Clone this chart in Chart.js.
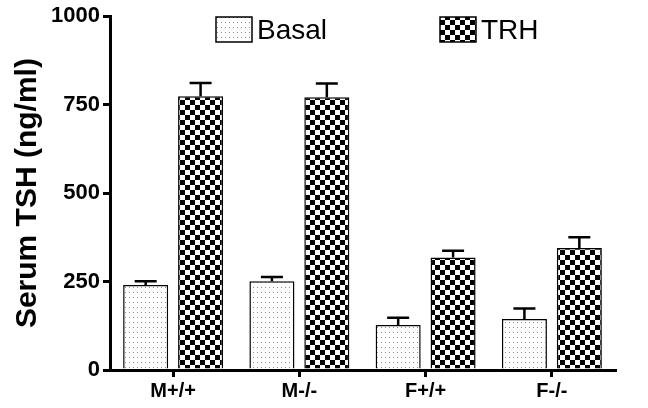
<!DOCTYPE html>
<html lang="en">
<head>
    <meta charset="UTF-8">
    <title>Serum TSH</title>
    <style>
        body { margin: 0; background: #fff; }
        #wrap { width: 648px; height: 408px; }
    </style>
</head>
<body>
    <div id="wrap">
        <canvas id="myChart"></canvas>
    </div>

    <script src="https://cdn.jsdelivr.net/npm/chart.js"></script>

    <script>
        let categories = ['M+/+', 'M-/-', 'F+/+', 'F-/-'];
        let basal = [240, 251, 127, 144];
        let basalErr = [11, 12, 21, 30];
        let trh = [774, 771, 318, 345];
        let trhErr = [37, 39, 19, 30];
        let yTicks = [0, 250, 500, 750, 1000];

        // fill patterns
        function dotPattern() {
            let c = document.createElement('canvas');
            c.width = 4; c.height = 5;
            let g = c.getContext('2d');
            g.fillStyle = '#fff';
            g.fillRect(0, 0, 4, 5);
            g.fillStyle = '#8a8a8a';
            g.fillRect(1, 2, 1, 1);
            return g.createPattern(c, 'repeat');
        }
        function checkPattern() {
            let c = document.createElement('canvas');
            c.width = 10; c.height = 10;
            let g = c.getContext('2d');
            g.fillStyle = '#fff';
            g.fillRect(0, 0, 10, 10);
            g.fillStyle = '#000';
            g.fillRect(0, 0, 5, 5);
            g.fillRect(5, 5, 5, 5);
            return g.createPattern(c, 'repeat');
        }

        let errors = [basalErr, trhErr];

        let errorBars = {
            id: 'errorBars',
            afterDatasetsDraw(chart) {
                let ctx = chart.ctx;
                let y = chart.scales.y;
                ctx.save();
                ctx.strokeStyle = '#000';
                ctx.lineWidth = 2.5;
                chart.data.datasets.forEach((ds, i) => {
                    chart.getDatasetMeta(i).data.forEach((bar, j) => {
                        let top = y.getPixelForValue(ds.data[j] + errors[i][j]);
                        ctx.beginPath();
                        ctx.moveTo(bar.x, bar.y);
                        ctx.lineTo(bar.x, top);
                        ctx.moveTo(bar.x - 11, top);
                        ctx.lineTo(bar.x + 11, top);
                        ctx.stroke();
                    });
                });
                ctx.restore();
            }
        };

        let legendBox = {
            id: 'legendBox',
            afterDraw(chart) {
                let ctx = chart.ctx;
                let pos = [216, 440];
                ctx.save();
                ctx.font = '28px Arial, "Liberation Sans", sans-serif';
                ctx.textBaseline = 'middle';
                chart.data.datasets.forEach((ds, i) => {
                    ctx.fillStyle = ds.backgroundColor;
                    ctx.fillRect(pos[i], 17, 36, 25);
                    ctx.strokeStyle = '#000';
                    ctx.lineWidth = 1.5;
                    ctx.strokeRect(pos[i], 17, 36, 25);
                    ctx.fillStyle = '#000';
                    ctx.fillText(ds.label, pos[i] + 41, 31);
                });
                ctx.restore();
            }
        };

        let datasets = [
            {
                label: 'Basal',
                data: basal,
                backgroundColor: dotPattern(),
                borderColor: '#000',
                borderWidth: 1.5,
            },
            {
                label: 'TRH',
                data: trh,
                backgroundColor: checkPattern(),
                borderColor: '#000',
                borderWidth: 1.5,
            },
        ];

        let options = {
            responsive: true,
            maintainAspectRatio: false,
            animation: false,
            layout: { padding: { top: 16, right: 33, left: 0, bottom: 0 } },
            datasets: { bar: { categoryPercentage: 0.87, barPercentage: 0.82 } },
            plugins: {
                legend: { display: false },
                tooltip: { enabled: false },
            },
            scales: {
                x: {
                    grid: { display: true, drawOnChartArea: false, offset: false, tickLength: 7, lineWidth: 3, color: '#000' },
                    border: { display: true, width: 3, color: '#000' },
                    ticks: {
                        color: '#000',
                        padding: 2,
                        font: { family: 'Arial, "Liberation Sans", sans-serif', size: 20, weight: 'bold' },
                    },
                    afterFit: (s) => { s.height = 38; },
                },
                y: {
                    min: 0,
                    max: 1000,
                    afterBuildTicks: (s) => { s.ticks = yTicks.map(v => ({ value: v })); },
                    grid: { display: true, drawOnChartArea: false, tickLength: 7, lineWidth: 3, color: '#000' },
                    border: { display: true, width: 3, color: '#000' },
                    ticks: {
                        color: '#000',
                        padding: 3,
                        callback: (v) => String(v),
                        font: { family: 'Arial, "Liberation Sans", sans-serif', size: 22, weight: 'bold' },
                    },
                    title: {
                        display: true,
                        text: 'Serum TSH (ng/ml)',
                        color: '#000',
                        padding: { top: 10, bottom: 0 },
                        font: { family: 'Arial, "Liberation Sans", sans-serif', size: 30, weight: 'bold' },
                    },
                    afterFit: (s) => { s.width = 110; },
                },
            },
        };

        new Chart(document.getElementById('myChart'), {
            type: 'bar',
            data: { labels: categories, datasets: datasets },
            options: options,
            plugins: [errorBars, legendBox],
        });
    </script>
</body>
</html>
